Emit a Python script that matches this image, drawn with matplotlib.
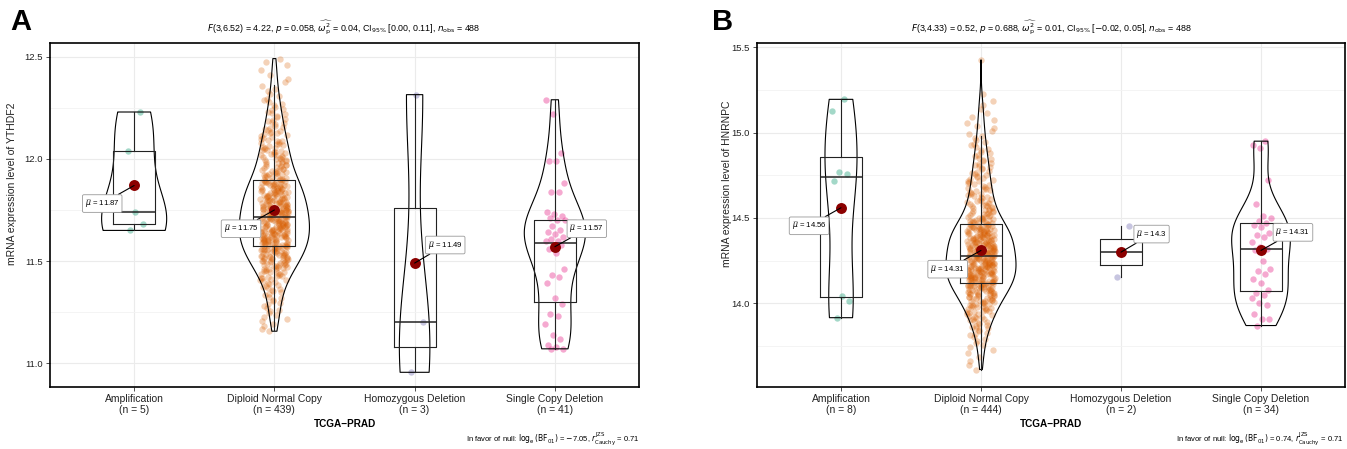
import numpy as np
import matplotlib
matplotlib.use("Agg")
import matplotlib.pyplot as plt

plt.rcParams["font.family"] = ["Liberation Sans", "DejaVu Sans"]

# ---- datos ----
categorias = ["Amplification", "Diploid Normal Copy", "Homozygous Deletion", "Single Copy Deletion"]
colores = ["#1B9E77", "#D95F02", "#7570B3", "#E7298A"]

# Panel A (YTHDF2)
amp_a = [12.23, 12.04, 11.74, 11.68, 11.65]
homo_a = [12.315, 11.20, 10.955]
single_a = [12.29, 12.22, 12.03, 11.99, 11.99, 11.88, 11.84, 11.84, 11.74, 11.73, 11.72,
            11.71, 11.70, 11.70, 11.67, 11.65, 11.64, 11.63, 11.62, 11.61, 11.60,
            11.60, 11.58, 11.58, 11.56, 11.54, 11.46, 11.43, 11.42, 11.39, 11.32,
            11.29, 11.24, 11.23, 11.19, 11.14, 11.12, 11.09, 11.08, 11.07, 11.07]
# diploid: histograma (limite inferior del bin de 0.05, cuenta)
dip_a_bins = [11.15, 11.20, 11.25, 11.30, 11.35, 11.40, 11.45, 11.50, 11.55, 11.60, 11.65,
              11.70, 11.75, 11.80, 11.85, 11.90, 11.95, 12.00, 12.05, 12.10, 12.15, 12.20,
              12.25, 12.30, 12.35, 12.40, 12.45]
dip_a_counts = [4, 5, 6, 7, 10, 15, 22, 29, 34, 36, 36, 34, 33, 30, 28, 19, 17, 16, 13, 11,
                9, 7, 6, 4, 3, 2, 3]
medias_a = [11.87, 11.75, 11.49, 11.57]
q1_a = [11.68, 11.572, 11.08, 11.30]
med_a = [11.74, 11.717, 11.20, 11.59]
q3_a = [12.04, 11.896, 11.76, 11.70]
lo_a = [11.65, 11.16, 10.955, 11.07]
hi_a = [12.23, 12.36, 12.315, 12.29]

# Panel B (HNRNPC)
amp_b = [15.195, 15.127, 14.771, 14.76, 14.717, 14.043, 14.013, 13.916]
homo_b = [14.454, 14.152]
single_b = [14.95, 14.93, 14.91, 14.72, 14.58, 14.51, 14.50, 14.48, 14.47, 14.46, 14.45,
            14.41, 14.40, 14.39, 14.36, 14.33, 14.32, 14.31, 14.25, 14.20, 14.19, 14.17,
            14.14, 14.12, 14.08, 14.06, 14.05, 14.03, 14.00, 13.99, 13.94, 13.91, 13.91, 13.87]
dip_b_bins = [13.60, 13.65, 13.70, 13.75, 13.80, 13.85, 13.90, 13.95, 14.00, 14.05, 14.10,
              14.15, 14.20, 14.25, 14.30, 14.35, 14.40, 14.45, 14.50, 14.55, 14.60, 14.65,
              14.70, 14.75, 14.80, 14.85, 14.90, 14.95, 15.00, 15.05, 15.10, 15.15, 15.20, 15.40]
dip_b_counts = [2, 2, 3, 4, 6, 9, 12, 16, 20, 26, 32, 34, 34, 32, 31, 31, 29, 21, 15, 13,
                11, 10, 9, 8, 7, 6, 5, 4, 3, 3, 2, 2, 1, 1]
medias_b = [14.56, 14.31, 14.30, 14.31]
q1_b = [14.035, 14.117, 14.227, 14.073]
med_b = [14.738, 14.277, 14.30, 14.319]
q3_b = [14.86, 14.463, 14.378, 14.472]
lo_b = [13.916, 13.61, 14.152, 13.87]
hi_b = [15.195, 14.98, 14.454, 14.95]


def expandir_bins(bins, counts, ancho=0.05):
    vals = []
    for lo, c in zip(bins, counts):
        vals.extend(lo + (np.arange(c) + 0.5) / c * ancho)
    return np.array(vals)


def bw_nrd0(x):
    x = np.asarray(x)
    sd = np.std(x, ddof=1)
    iqr = np.subtract(*np.percentile(x, [75, 25]))
    return 0.9 * min(sd, iqr / 1.34) * len(x) ** (-0.2)


def densidad_max(x):
    x = np.asarray(x)
    bw = bw_nrd0(x)
    grid = np.linspace(x.min(), x.max(), 512)
    d = np.exp(-0.5 * ((grid[:, None] - x[None, :]) / bw) ** 2).sum(axis=1)
    return d.max() / (len(x) * bw * np.sqrt(2 * np.pi))


def panel(ax, grupos, medias, q1, med, q3, lo, hi, ylim, yticks, yminor, ylabel):
    pos = np.arange(1, 5)
    # puntos (jitter horizontal determinista)
    for i, vals in enumerate(grupos):
        vals = np.sort(np.asarray(vals))
        k = np.arange(len(vals))
        if len(vals) > 100:
            jit = ((k * 0.6180339887 + k * k * 0.1415926 + 0.31) % 1.0 - 0.5) * 0.2
            alfa = 0.28
        else:
            jit = ((k * 0.6180339887 + 0.31) % 1.0 - 0.5) * 0.14
            alfa = 0.4
        ax.scatter(pos[i] + jit, vals, s=21, color=colores[i], alpha=alfa,
                   linewidths=0, zorder=2)
    # violines (escala "area" como ggplot)
    dmax = [densidad_max(v) if len(v) >= 3 else 0 for v in grupos]
    gmax = max(dmax)
    for i, vals in enumerate(grupos):
        if len(vals) < 3:
            continue
        vals = np.asarray(vals)
        f = bw_nrd0(vals) / np.std(vals, ddof=1)
        vp = ax.violinplot(vals, positions=[pos[i]], widths=0.5 * dmax[i] / gmax,
                           bw_method=f, showextrema=False, points=200)
        for b in vp["bodies"]:
            b.set_facecolor("none")
            b.set_edgecolor("black")
            b.set_linewidth(0.8)
            b.set_alpha(1)
            b.set_zorder(3)
    # cajas
    stats = [dict(q1=q1[i], med=med[i], q3=q3[i], whislo=lo[i], whishi=hi[i], fliers=[])
             for i in range(4)]
    ax.bxp(stats, positions=pos, widths=0.3, showcaps=False, showfliers=False,
           boxprops=dict(color="#222222", lw=0.8), whiskerprops=dict(color="#222222", lw=0.8),
           medianprops=dict(color="#222222", lw=1.1), zorder=3)
    # medias
    ax.scatter(pos, medias, s=62, color="#8B0000", zorder=5, linewidths=0)
    offsets = [(-23, -13), (-24, -13.5), (22, 13), (23, 13)]
    for i, m in enumerate(medias):
        ax.annotate(r"$\widehat{\mu}$ = " + format(m, "g"), xy=(pos[i], m), xytext=offsets[i],
                    textcoords="offset points", fontsize=5.6, ha="center", va="center",
                    bbox=dict(boxstyle="round,pad=0.3,rounding_size=0.2", fc="white",
                              ec="#999999", lw=0.6),
                    arrowprops=dict(arrowstyle="-", color="black", lw=0.8,
                                    shrinkA=0, shrinkB=0), zorder=6)
    ax.set_xlim(0.4, 4.6)
    ax.set_ylim(*ylim)
    ax.set_xticks(pos)
    ax.set_xticklabels([f"{c}\n(n = {len(g)})" for c, g in zip(categorias, grupos)],
                       fontsize=7.5, color="#222222", linespacing=1.1)
    ax.set_yticks(yticks)
    ax.set_yticks(yminor, minor=True)
    ax.set_yticklabels([f"{t:.1f}" for t in yticks], fontsize=6.8, color="#222222")
    ax.tick_params(axis="both", which="major", length=3, width=0.6, color="#333333", pad=2)
    ax.tick_params(axis="y", which="minor", length=0)
    ax.grid(True, which="major", color="#EBEBEB", lw=0.8)
    ax.grid(True, which="minor", axis="y", color="#F3F3F3", lw=0.6)
    ax.set_axisbelow(True)
    for s in ax.spines.values():
        s.set_linewidth(1.2)
        s.set_color("black")
    ax.set_xlabel("TCGA\u2212PRAD", fontsize=7.2, fontweight="bold", labelpad=3)
    ax.set_ylabel(ylabel, fontsize=7.5, color="#222222")


fig = plt.figure(figsize=(13.47, 4.49), dpi=100)
alto = 344 / 449
axA = fig.add_axes([50 / 1347, 1 - 387 / 449, 589 / 1347, alto])
axB = fig.add_axes([757 / 1347, 1 - 387 / 449, 588 / 1347, alto])

grupos_a = [amp_a, expandir_bins(dip_a_bins, dip_a_counts), homo_a, single_a]
grupos_b = [amp_b, expandir_bins(dip_b_bins, dip_b_counts), homo_b, single_b]

panel(axA, grupos_a, medias_a, q1_a, med_a, q3_a, lo_a, hi_a, (10.883, 12.568),
      [11.0, 11.5, 12.0, 12.5], [11.25, 11.75, 12.25], "mRNA expression level of YTHDF2")
panel(axB, grupos_b, medias_b, q1_b, med_b, q3_b, lo_b, hi_b, (13.51, 15.525),
      [14.0, 14.5, 15.0, 15.5], [13.75, 14.25, 14.75, 15.25], "mRNA expression level of HNRNPC")
axA.yaxis.set_label_coords(-0.056, 0.59)
axB.yaxis.set_label_coords(-0.043, 0.59)

fig.text(10 / 1347, 1 - 22 / 449, "A", fontsize=21, fontweight="bold", va="center", ha="left")
fig.text(712 / 1347, 1 - 22 / 449, "B", fontsize=21, fontweight="bold", va="center", ha="left")

sub_a = (r"$F$(3,6.52) = 4.22, $p$ = 0.058, $\widehat{\omega_{\mathrm{p}}^{2}}$ = 0.04, "
         r"CI$_{95\%}$ [0.00, 0.11], $n_{\mathrm{obs}}$ = 488")
sub_b = (r"$F$(3,4.33) = 0.52, $p$ = 0.688, $\widehat{\omega_{\mathrm{p}}^{2}}$ = 0.01, "
         r"CI$_{95\%}$ [$-$0.02, 0.05], $n_{\mathrm{obs}}$ = 488")
fig.text(344 / 1347, 1 - 28 / 449, sub_a, fontsize=6.4, ha="center", va="center")
fig.text(1051 / 1347, 1 - 28 / 449, sub_b, fontsize=6.4, ha="center", va="center")

cap_a = (r"In favor of null: $\log_{\mathrm{e}}(\mathrm{BF}_{01})$ = $-$7.05, "
         r"$r_{\mathrm{Cauchy}}^{\mathrm{JZS}}$ = 0.71")
cap_b = (r"In favor of null: $\log_{\mathrm{e}}(\mathrm{BF}_{01})$ = 0.74, "
         r"$r_{\mathrm{Cauchy}}^{\mathrm{JZS}}$ = 0.71")
fig.text(640 / 1347, 1 - 439 / 449, cap_a, fontsize=5.5, ha="right", va="center")
fig.text(1343 / 1347, 1 - 439 / 449, cap_b, fontsize=5.5, ha="right", va="center")

fig.savefig("out.png", dpi=100)
